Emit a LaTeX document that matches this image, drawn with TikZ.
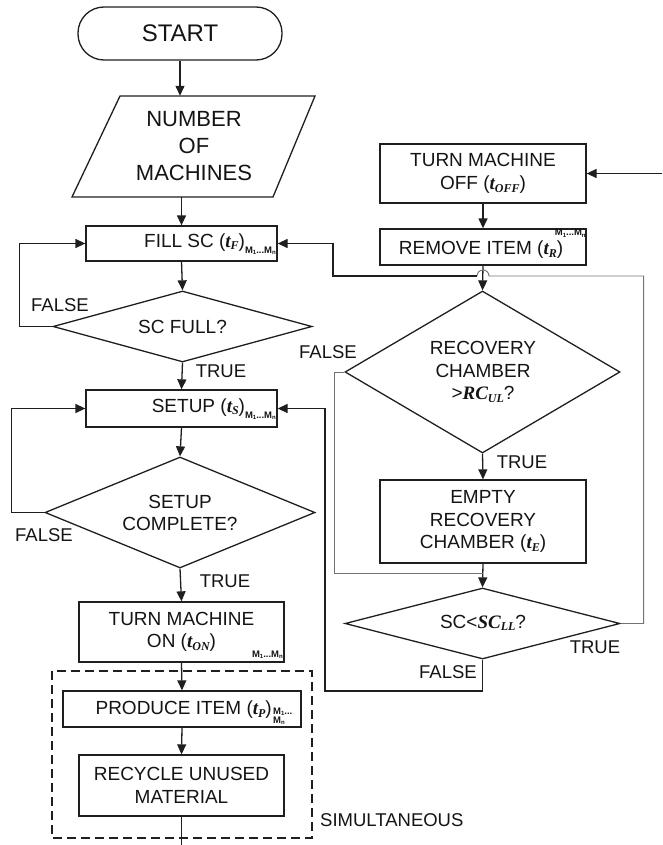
\documentclass[tikz,border=0pt]{standalone}
\usepackage{fontspec}
\setmainfont{Liberation Sans}
\newfontfamily\serf{Liberation Serif}
\usetikzlibrary{shapes.geometric,arrows.meta}

\newcommand{\ti}[2]{{\serf\bfseries\itshape #1\raisebox{-0.3ex}{\fontsize{12}{12}\selectfont #2}}}
\newcommand{\ms}[1]{\raisebox{-0.25ex}{\fontsize{6}{6}\selectfont #1}}
\newcommand{\mrange}{{\fontsize{9.5}{9.5}\selectfont\bfseries M\ms{1}...M\ms{n}}}

\begin{document}
\begin{tikzpicture}[x=1pt,y=-1pt,
  line/.style={draw=black!88, line width=1.3pt},
  thinline/.style={draw=black!55, line width=0.9pt},
  arr/.style={line, -{Triangle[length=10pt,width=9pt]}},
  box/.style={line, rectangle, inner sep=0pt, align=center, font=\fontsize{19}{22.5}\selectfont, text=black!92},
  dia/.style={line, diamond, inner sep=0pt},
  txt/.style={inner sep=0pt, align=center, font=\fontsize{19}{22.5}\selectfont, text=black!92},
  lbl/.style={inner sep=0pt, font=\fontsize{18.5}{22}\selectfont, text=black!92},
  sub/.style={inner sep=0pt, text=black!92},
]
\useasboundingbox (0,0) rectangle (662,845);

% ---------- left column ----------
\node[line, rectangle, rounded corners=26pt, minimum width=204pt, minimum height=53pt, inner sep=0pt, font=\fontsize{24}{24}\selectfont, text=black!92] (start) at (180,33.5) {START};

\draw[line] (120,96) -- (315,96) -- (273,197) -- (72,197) -- cycle;
\node[txt, font=\fontsize{22}{27}\selectfont, minimum height=101pt] (num) at (194,146.5) {NUMBER\\OF\\MACHINES};

\node[box, minimum width=191pt, minimum height=35pt] (fill) at (181.5,243.5) {};
\node[txt, anchor=east] (filltxt) at (276,244) {FILL SC (\ti{t}{F})\raisebox{-0.6ex}{\mrange}};

\node[dia, minimum width=259pt, minimum height=71pt] (scfull) at (182.5,326.5) {};
\node[txt] (scfulltxt) at (scfull) {SC FULL?};

\node[box, minimum width=191pt, minimum height=37pt] (setup) at (181.5,408.5) {};
\node[txt, anchor=east] (setuptxt) at (276,409) {SETUP (\ti{t}{S})\raisebox{-0.6ex}{\mrange}};

\node[dia, minimum width=270pt, minimum height=111pt] (setupc) at (180,512.5) {};
\node[txt] (setupctxt) at (180,513) {SETUP\\COMPLETE?};

\node[box, minimum width=205pt, minimum height=60pt] (on) at (181.5,632) {TURN MACHINE\\ON (\ti{t}{ON})};
\node[sub, anchor=south east] (onsub) at (283,659) {\mrange};

\draw[line, dash pattern=on 9pt off 5pt] (52,671) rectangle (312,838);

\node[box, minimum width=238pt, minimum height=36pt] (produce) at (182,709) {};
\node[txt, anchor=east] (producetxt) at (272,710) {PRODUCE ITEM (\ti{t}{P})};
\node[sub, anchor=west, align=left, font=\fontsize{9.5}{9}\selectfont\bfseries] (producesub) at (273,716) {M\ms{1}...\\M\ms{n}};

\node[box, minimum width=205pt, minimum height=61pt] (recycle) at (181.5,785.5) {RECYCLE UNUSED\\MATERIAL};
\coordinate (endpt) at (181.5,845);

% ---------- right column ----------
\node[box, minimum width=206pt, minimum height=59pt] (off) at (483,173.5) {TURN MACHINE\\OFF (\ti{t}{OFF})};
\coordinate (offin) at (662,173.5);
\node[box, minimum width=206pt, minimum height=36pt] (remove) at (483,247) {};
\node[txt] (removetxt) at (481,250) {REMOVE ITEM (\ti{t}{R})};
\node[sub, inner sep=0.8pt, anchor=north east] (removesub) at (remove.north east) {\mrange};

\node[dia, minimum width=275pt, minimum height=162pt] (rc) at (482.5,372) {};
\node[txt] (rctxt) at (483,372) {RECOVERY\\CHAMBER\\>\ti{RC}{UL}?};

\node[box, minimum width=206pt, minimum height=83pt] (empty) at (483,521.5) {EMPTY\\RECOVERY\\CHAMBER (\ti{t}{E})};

\node[dia, minimum width=275pt, minimum height=71pt] (sc) at (482.5,623.5) {};
\node[txt] (sctxt) at (483,623) {SC<\ti{SC}{LL}?};

% ---------- connectors ----------
\draw[arr] (start.south) -- (start.south |- num.north);
\draw[arr] (num.south -| fill.north) -- (fill.north);
\draw[arr] (fill.south) -- (scfull.north);
\draw[arr] (scfull.west) -- ++(-33,0) |- (fill.west);
\draw[arr] (scfull.south) -- (setup.north);
\draw[arr] (setup.south) -- (setupc.north);
\draw[arr] (setupc.west) -- ++(-33,0) |- (setup.west);
\draw[arr] (setupc.south) -- (on.north);
\draw[arr] (on.south) -- (produce.north);
\draw[arr] (produce.south) -- (recycle.north);
\draw[line] (recycle.south) -- (endpt);

\draw[arr] (offin) -- (off.east);
\draw[arr] (off.south) -- (remove.north);
\draw[arr] (remove.south) -- (rc.north);
\draw[arr] (rc.south) -- (empty.north);
\draw[arr] (empty.south) -- (sc.north);

\coordinate (joinE) at (483,573);
\draw[thinline] (rc.west) -- ++(-10,0) |- (joinE);

\coordinate (bk) at (325,691);
\draw[arr] (sc.south) |- (bk) |- (setup.east);

\coordinate (hop) at (483,276);
\coordinate (tl) at (333,276);
\draw[thinline] (sc.east) -- ++(23,0) |- ([xshift=6pt]hop) arc[start angle=0, end angle=180, radius=6pt];
\draw[arr] ([xshift=-6pt]hop) -- (tl) |- (fill.east);

% ---------- labels ----------
\node[lbl] (l1) at (60,305) {FALSE};
\node[lbl] (l2) at (221,371) {TRUE};
\node[lbl] (l3) at (44,535) {FALSE};
\node[lbl] (l4) at (225,581) {TRUE};
\node[lbl] (l5) at (328,352) {FALSE};
\node[lbl] (l6) at (522,462) {TRUE};
\node[lbl] (l7) at (595,647) {TRUE};
\node[lbl] (l8) at (448,672) {FALSE};
\node[lbl, anchor=west] (l9) at (320,820) {SIMULTANEOUS};
\end{tikzpicture}
\end{document}
